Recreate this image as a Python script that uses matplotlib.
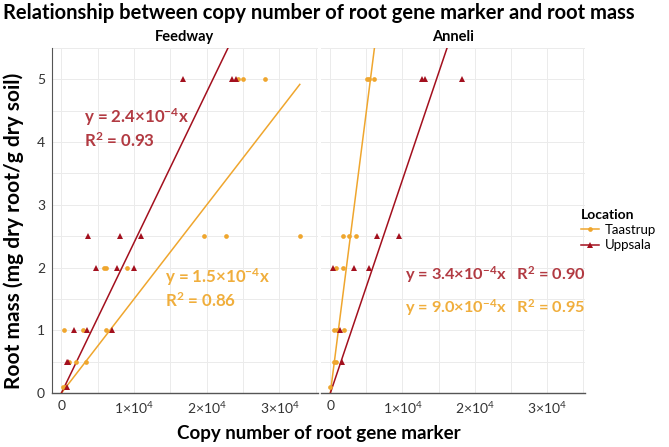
import matplotlib
import numpy as np
from matplotlib import pyplot as plt
from matplotlib.lines import Line2D

matplotlib.use("Agg")

plt.rcParams["font.family"] = ["Lato", "DejaVu Sans"]
plt.rcParams["mathtext.fontset"] = "custom"
plt.rcParams["mathtext.rm"] = "Lato"
plt.rcParams["mathtext.bf"] = "Lato:bold"
plt.rcParams["mathtext.default"] = "regular"

ORANGE = "#EFA62E"
DARKRED = "#A3101E"
ORANGE_TEXT = "#F0AE3C"
RED_TEXT = "#B23A42"

sites = ["Feedway", "Anneli"]

# Feedway
feed_upp_x = [16700, 23500, 24000, 3600, 8000, 10900, 4700, 7600, 10000, 1700, 3500, 6900, 700, 900, 700]
feed_upp_y = [5, 5, 5, 2.5, 2.5, 2.5, 2, 2, 2, 1, 1, 1, 0.5, 0.5, 0.1]
feed_taa_x = [24300, 25000, 28000, 19600, 22600, 32800, 5800, 6100, 9000, 300, 3000, 6200,
              1100, 2000, 3400, 200, 500]
feed_taa_y = [5, 5, 5, 2.5, 2.5, 2.5, 2, 2, 2, 1, 1, 1, 0.5, 0.5, 0.5, 0.1, 0.1]

# Anneli
ann_upp_x = [12700, 13100, 18300, 6500, 9500, 300, 3300, 5400, 1400, 1600]
ann_upp_y = [5, 5, 5, 2.5, 2.5, 2, 2, 2, 1, 0.5]
ann_taa_x = [5100, 5400, 6100, 1700, 2600, 3600, 800, 1800, 500, 900, 1900, 500, 800, 0]
ann_taa_y = [5, 5, 5, 2.5, 2.5, 2.5, 2, 2, 1, 1, 1, 0.5, 0.5, 0.1]

# fitted slopes (through origin)
slopes = {"Feedway": {"Uppsala": 2.4e-4, "Taastrup": 1.5e-4},
          "Anneli": {"Uppsala": 3.4e-4, "Taastrup": 9.0e-4}}

data = {
    "Feedway": {"Taastrup": (feed_taa_x, feed_taa_y), "Uppsala": (feed_upp_x, feed_upp_y)},
    "Anneli": {"Taastrup": (ann_taa_x, ann_taa_y), "Uppsala": (ann_upp_x, ann_upp_y)},
}
colors = {"Taastrup": ORANGE, "Uppsala": DARKRED}
markers = {"Taastrup": "o", "Uppsala": "^"}
msizes = {"Taastrup": 3.4, "Uppsala": 4.2}

x_ticks = [0, 10000, 20000, 30000]
x_tick_labels = ["0", "1×10$^{4}$", "2×10$^{4}$", "3×10$^{4}$"]
y_ticks = [0, 1, 2, 3, 4, 5]

fig = plt.figure(figsize=(6.69, 4.47), dpi=100)
ax_left = fig.add_axes([0.0777, 0.1208, 0.3976, 0.7718])
ax_right = fig.add_axes([0.4798, 0.1208, 0.3946, 0.7718])
axes = {"Feedway": ax_left, "Anneli": ax_right}

for site in sites:
    ax = axes[site]
    ax.set_xlim(-1300, 35300)
    ax.set_ylim(0, 5.5)
    ax.set_xticks(np.arange(0, 35001, 5000), minor=True)
    ax.set_yticks(np.arange(0, 5.51, 0.5), minor=True)
    ax.set_xticks(x_ticks)
    ax.set_xticklabels(x_tick_labels)
    ax.set_yticks(y_ticks)
    ax.grid(True, which="both", color="#EBEBEB", linewidth=0.7)
    ax.set_axisbelow(True)
    ax.tick_params(which="both", length=0, labelsize=10, colors="#333333", pad=5)
    for side in ["top", "right", "left"]:
        ax.spines[side].set_visible(False)
    ax.spines["bottom"].set_color("#555555")
    ax.spines["bottom"].set_linewidth(1.0)
    ax.set_title(site, fontsize=10.5, fontweight="bold", pad=5)

    for loc in ["Taastrup", "Uppsala"]:
        xs, ys = data[site][loc]
        xs = np.asarray(xs, dtype=float)
        line_x = np.array([0, xs.max()])
        ax.plot(line_x, slopes[site][loc] * line_x, color=colors[loc], linewidth=1.1, zorder=3)
        ax.plot(xs, ys, linestyle="none", marker=markers[loc], markersize=msizes[loc],
                color=colors[loc], markeredgewidth=0, zorder=4, clip_on=False)

ax_left.spines["left"].set_visible(True)
ax_left.spines["left"].set_color("#555555")
ax_right.tick_params(axis="y", labelleft=False)

# equation annotations
ax_left.text(3100, 4.39, "y = 2.4×10$^{-4}$x", color=RED_TEXT, fontsize=12.2,
             fontweight="bold", va="center", ha="left")
ax_left.text(3100, 4.03, "R$^{2}$ = 0.93", color=RED_TEXT, fontsize=12.2,
             fontweight="bold", va="center", ha="left")
ax_left.text(14200, 1.84, "y = 1.5×10$^{-4}$x", color=ORANGE_TEXT, fontsize=12.2,
             fontweight="bold", va="center", ha="left")
ax_left.text(14200, 1.48, "R$^{2}$ = 0.86", color=ORANGE_TEXT, fontsize=12.2,
             fontweight="bold", va="center", ha="left")
ax_right.text(10300, 1.89, "y = 3.4×10$^{-4}$x   R$^{2}$ = 0.90", color=RED_TEXT, fontsize=11.8,
              fontweight="bold", va="center", ha="left", clip_on=False)
ax_right.text(10300, 1.37, "y = 9.0×10$^{-4}$x   R$^{2}$ = 0.95", color=ORANGE_TEXT, fontsize=11.8,
              fontweight="bold", va="center", ha="left", clip_on=False)

fig.text(0.004, 0.971, "Relationship between copy number of root gene marker and root mass",
         fontsize=14.5, fontweight="bold", ha="left", va="center")
fig.text(0.477, 0.03, "Copy number of root gene marker", fontsize=13.5, fontweight="bold",
         ha="center", va="center")
fig.text(0.02, 0.483, "Root mass (mg dry root/g dry soil)", fontsize=15, fontweight="bold",
         ha="center", va="center", rotation=90)

handles = [
    Line2D([0], [0], color=ORANGE, marker="o", markersize=3.4, markeredgewidth=0, linewidth=1.1),
    Line2D([0], [0], color=DARKRED, marker="^", markersize=4.2, markeredgewidth=0, linewidth=1.1),
]
legend = fig.legend(handles, ["Taastrup", "Uppsala"], title="Location", loc="upper left",
                    bbox_to_anchor=(0.868, 0.533), frameon=False, fontsize=9.5,
                    handlelength=1.4, handletextpad=0.4, labelspacing=0.25, borderpad=0,
                    borderaxespad=0)
legend.get_title().set_fontweight("bold")
legend.get_title().set_fontsize(10)
legend._legend_box.align = "left"

fig.savefig("out.png", dpi=100)
